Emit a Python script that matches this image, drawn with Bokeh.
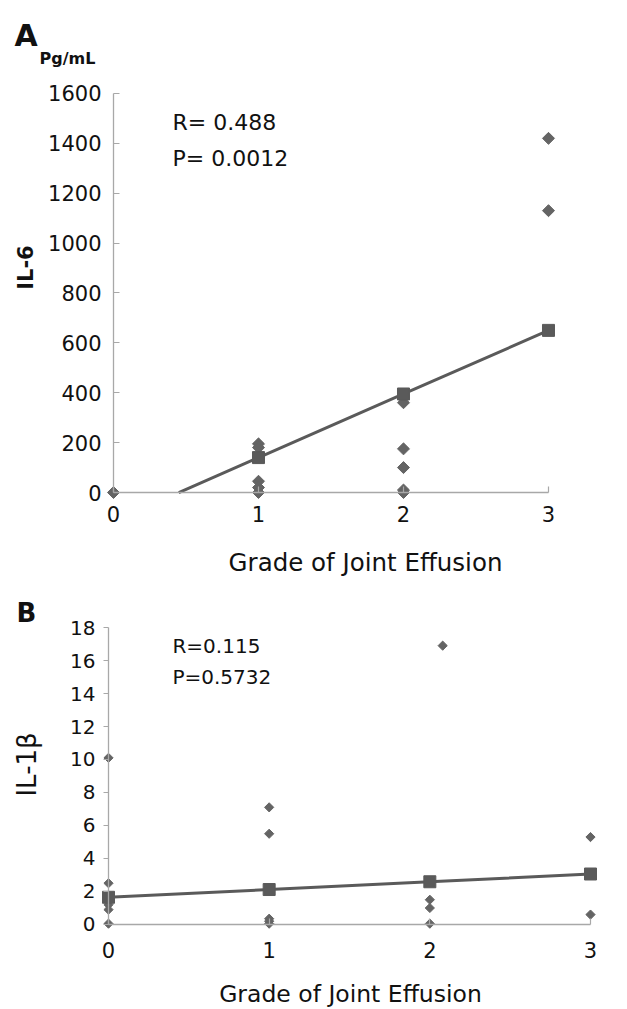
import math
from bokeh.plotting import figure
from bokeh.layouts import column
from bokeh.models import Label, FixedTicker
from bokeh.embed import file_html
from bokeh.resources import INLINE

# ---------------- data ----------------
# Panel A: IL-6 (pg/mL) vs grade of joint effusion
a_grade = [0, 1, 1, 1, 1, 1, 2, 2, 2, 2, 2, 3, 3]
a_il6 = [0, 195, 180, 45, 20, 0, 360, 175, 100, 10, 0, 1420, 1130]
a_fit_grade = [1, 2, 3]
a_fit_il6 = [140, 395, 650]
a_line_grade = [0.45, 1, 2, 3]
a_line_il6 = [0, 140, 395, 650]
a_yticks = [0, 200, 400, 600, 800, 1000, 1200, 1400, 1600]
grade_ticks = [0, 1, 2, 3]

# Panel B: IL-1beta vs grade of joint effusion
b_grade = [0, 0, 0, 0, 0, 0, 1, 1, 1, 1, 1, 2.08, 2, 2, 2, 3, 3]
b_il1b = [10.1, 2.5, 1.5, 1.2, 0.9, 0.05, 7.1, 5.5, 0.35, 0.2, 0.05, 16.9, 1.5, 1.0, 0.05, 5.3, 0.6]
b_fit_grade = [0, 1, 2, 3]
b_fit_il1b = [1.65, 2.12, 2.59, 3.06]
b_yticks = [0, 2, 4, 6, 8, 10, 12, 14, 16, 18]

FONT = "DejaVu Sans"
MARK = "#646464"
LINE = "#5a5a5a"
AXIS = "#a8a8a8"


def style_axes(p, xt, yt, ybounds, yfs, xfs, ytin, ytout, ystand, xstand):
    p.xgrid.visible = False
    p.ygrid.visible = False
    p.outline_line_color = None
    p.background_fill_color = "white"
    p.border_fill_color = "white"
    for ax in (p.xaxis[0], p.yaxis[0]):
        ax.axis_line_color = AXIS
        ax.axis_line_width = 1.3
        ax.major_tick_line_color = AXIS
        ax.major_tick_line_width = 1.2
        ax.minor_tick_line_color = None
        ax.major_label_text_font = FONT
        ax.major_label_text_color = "#111111"
    xa = p.xaxis[0]
    xa.fixed_location = 0
    xa.bounds = (0, 3)
    xa.ticker = FixedTicker(ticks=xt)
    xa.major_tick_in = 6
    xa.major_tick_out = 0
    xa.major_label_text_font_size = f"{xfs}px"
    xa.major_label_standoff = xstand
    ya = p.yaxis[0]
    ya.fixed_location = 0
    ya.bounds = ybounds
    ya.ticker = FixedTicker(ticks=yt)
    ya.major_tick_in = ytin
    ya.major_tick_out = ytout
    ya.major_label_text_font_size = f"{yfs}px"
    ya.major_label_standoff = ystand


def lab(p, x, y, text, size, bold=False, angle=0.0, align="left", baseline="alphabetic"):
    p.add_layout(Label(x=x, y=y, text=text, text_font=FONT, text_font_size=f"{size}px",
                       text_font_style="bold" if bold else "normal", angle=angle,
                       text_align=align, text_baseline=baseline, text_color="#111111"))


# ---------------- panel A ----------------
pa = figure(width=611, height=578, x_range=(-0.7793, 3.4345), y_range=(-344.8, 1972.7),
            output_backend="svg", toolbar_location=None, min_border=0,
            min_border_left=0, min_border_right=0, min_border_top=0, min_border_bottom=0)
style_axes(pa, grade_ticks, a_yticks, (0, 1600), 21, 21, 6, 0, 12, 13)
pa.line(a_line_grade, a_line_il6, line_width=3, color=LINE)
pa.scatter(a_grade, a_il6, marker="square", angle=math.pi / 4, size=8.5,
           color=MARK, line_color=MARK)
pa.scatter(a_fit_grade, a_fit_il6, marker="square", size=12, color=LINE, line_color=LINE)

lab(pa, -0.683, 1832, "A", 30, bold=True)
lab(pa, -0.51, 1740, "Pg/mL", 16, bold=True)
lab(pa, -0.60, 902, "IL-6", 21, bold=True, angle=math.pi / 2, align="center", baseline="middle")
lab(pa, 0.407, 1484, "R= 0.488", 22)
lab(pa, 0.407, 1339, "P= 0.0012", 22)
lab(pa, 1.738, -280.7, "Grade of Joint Effusion", 24.5, align="center")

# ---------------- panel B ----------------
pb = figure(width=611, height=431, x_range=(-0.6722, 3.1307), y_range=(-5.152, 20.970),
            output_backend="svg", toolbar_location=None, min_border=0,
            min_border_left=0, min_border_right=0, min_border_top=0, min_border_bottom=0)
style_axes(pb, grade_ticks, b_yticks, (0, 18), 20, 21, 0, 5, 8, 18)
pb.line(b_fit_grade, b_fit_il1b, line_width=3, color=LINE)
pb.scatter(b_grade, b_il1b, marker="square", angle=math.pi / 4, size=6.5,
           color=MARK, line_color=MARK)
pb.scatter(b_fit_grade, b_fit_il1b, marker="square", size=12, color=LINE, line_color=LINE)

lab(pb, -0.573, 18.9, "B", 26, bold=True)
lab(pb, -0.51, 9.7, "IL-1β", 26, angle=math.pi / 2, align="center", baseline="middle")
lab(pb, 0.398, 16.9, "R=0.115", 20)
lab(pb, 0.398, 15.03, "P=0.5732", 20)
lab(pb, 1.506, -4.242, "Grade of Joint Effusion", 23.5, align="center")

layout = column(pa, pb, spacing=0)
open("out.html", "w").write(file_html(layout, INLINE))
